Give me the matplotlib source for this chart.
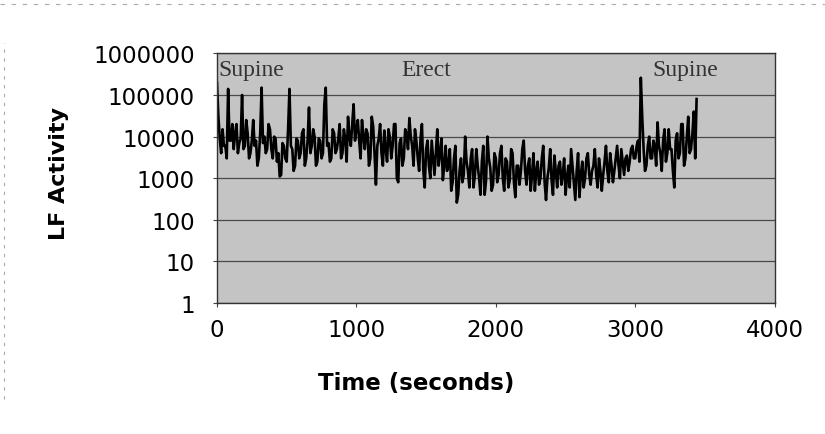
import numpy as np
import matplotlib.pyplot as plt
from matplotlib.lines import Line2D

# Datos (muestras cada 10 s)
step = 10
lf_activity = [
    200000, 30000, 9000, 4000, 15000, 6000, 6000, 3000, 140000, 8000,
    8000, 20000, 5000, 12000, 20000, 4000, 7000, 9000, 100000, 5000,
    6000, 25000, 12000, 3000, 4000, 8000, 25000, 6000, 8000, 2000,
    3000, 12000, 150000, 7000, 10000, 4000, 5000, 20000, 15000, 5000,
    3000, 10000, 9000, 2500, 4000, 1100, 1200, 7000, 6000, 3000,
    2500, 15000, 140000, 6000, 5000, 1500, 2000, 9000, 8000, 3000,
    4000, 12000, 15000, 2000, 3000, 8000, 50000, 4000, 6000, 15000,
    10000, 2000, 2500, 9000, 8000, 3000, 4000, 60000, 150000, 6000,
    7000, 2500, 3000, 15000, 12000, 4000, 5000, 9000, 20000, 3000,
    4000, 15000, 9000, 2500, 30000, 10000, 6000, 20000, 60000, 8000,
    15000, 25000, 8000, 3000, 25000, 10000, 5000, 15000, 12000, 2000,
    3000, 30000, 18000, 4000, 700, 6000, 9000, 20000, 4000, 2000,
    14000, 5000, 2500, 15000, 10000, 3000, 6000, 20000, 20000, 1000,
    800, 7000, 9000, 2000, 3000, 15000, 12000, 5000, 28000, 10000,
    6000, 2000, 15000, 8000, 3000, 1500, 9000, 20000, 1500, 600,
    5000, 8000, 2000, 1000, 8000, 3000, 1200, 4000, 15000, 2000,
    4000, 9000, 900, 2000, 6000, 1500, 2000, 5000, 500, 800,
    3000, 6000, 260, 400, 1500, 3000, 800, 1200, 10000, 2500,
    1500, 600, 3000, 5000, 600, 1200, 5000, 2000, 1000, 400,
    2500, 6000, 400, 900, 10000, 3000, 1800, 500, 700, 4000,
    3000, 800, 1200, 4000, 6000, 1000, 500, 3000, 2500, 600,
    900, 5000, 4000, 800, 350, 2000, 2000, 700, 1500, 5000,
    8000, 1500, 700, 2000, 3000, 500, 1200, 4000, 500, 1500,
    2500, 700, 1000, 3000, 6000, 800, 300, 1000, 1800, 5000,
    900, 400, 3500, 1500, 600, 2000, 2500, 700, 1200, 3000,
    400, 1000, 2000, 600, 5000, 2000, 800, 300, 1500, 4000,
    350, 1200, 2500, 600, 1000, 3000, 4000, 1200, 700, 1500,
    2000, 5000, 1200, 600, 3000, 1500, 500, 1200, 2500, 6000,
    1500, 800, 4000, 2000, 800, 1500, 3000, 6000, 2000, 1000,
    5000, 2500, 1200, 3000, 3500, 1500, 2500, 5000, 6000, 3000,
    3000, 6000, 8000, 2500, 260000, 30000, 5000, 1500, 2000, 6000,
    10000, 3000, 3000, 8000, 6000, 2000, 22000, 6000, 4000, 1500,
    8000, 15000, 2500, 4000, 15000, 5000, 5000, 1500, 600, 8000,
    12000, 3000, 4000, 20000, 20000, 2000, 3000, 10000, 30000, 4000,
    5000, 12000, 40000, 3000, 80000,
]
time_s = np.arange(len(lf_activity)) * step

y_ticks = [1, 10, 100, 1000, 10000, 100000, 1000000]
x_ticks = [0, 1000, 2000, 3000, 4000]
phase_labels = ["Supine", "Erect", "Supine"]
phase_pos = [(8, 400000), (1320, 400000), (3125, 400000)]

fig = plt.figure(figsize=(8.25, 4.35), dpi=100)
ax = fig.add_axes([0.263, 0.301, 0.676, 0.574])
ax.set_facecolor('#c4c4c4')

ax.plot(time_s, lf_activity, color='black', linewidth=1.9)

ax.set_yscale('log')
ax.set_ylim(1, 1000000)
ax.set_xlim(0, 4000)
ax.set_yticks(y_ticks)
ax.set_yticklabels([str(v) for v in y_ticks])
ax.minorticks_off()
ax.set_xticks(x_ticks)
ax.set_xticklabels([str(v) for v in x_ticks])
ax.tick_params(axis='both', labelsize=16.5, length=3, color='#444444')
ax.tick_params(axis='x', pad=8)
ax.tick_params(axis='y', pad=13)

ax.grid(axis='y', color='#4a4a4a', linewidth=0.9)
ax.set_axisbelow(True)
for sp in ax.spines.values():
    sp.set_color('#333333')
    sp.set_linewidth(1.0)

ax.set_xlabel('Time (seconds)', fontsize=16.5, fontweight='bold')
ax.xaxis.set_label_coords(0.358, -0.272)
ax.set_ylabel('LF Activity', fontsize=16, fontweight='bold')
ax.yaxis.set_label_coords(-0.265, 0.522)

for txt, (xp, yp) in zip(phase_labels, phase_pos):
    ax.text(xp, yp, txt, family='Liberation Serif', fontsize=17,
            color='#333333', va='center', ha='left')

# bordes punteados del escaneo
fig.add_artist(Line2D([0, 1], [0.988, 0.988], transform=fig.transFigure,
                      color='#aaaaaa', linewidth=0.8, linestyle=(0, (4, 6))))
fig.add_artist(Line2D([0.005, 0.005], [0.08, 0.9], transform=fig.transFigure,
                      color='#aaaaaa', linewidth=0.8, linestyle=(0, (3, 5))))

fig.savefig('out.png', dpi=100)
